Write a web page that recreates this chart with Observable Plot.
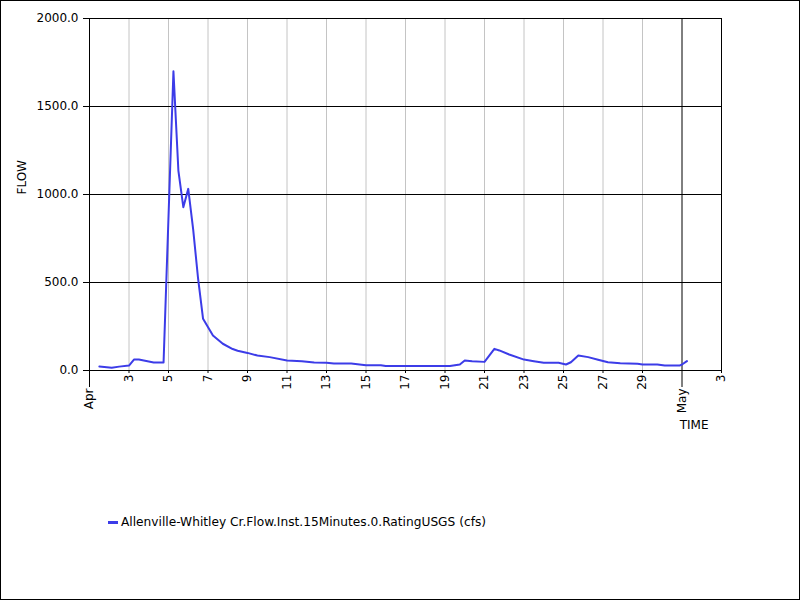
<!DOCTYPE html>
<html>
<head>
<meta charset="utf-8">
<script src="https://cdn.jsdelivr.net/npm/d3@7"></script>
<script src="https://cdn.jsdelivr.net/npm/@observablehq/plot@0.6"></script>
<style>
  html, body { margin: 0; padding: 0; background: white; }
  #page { position: relative; width: 800px; height: 600px; background: white; overflow: hidden; }
  #chart { position: absolute; left: 0; top: 0; width: 800px; }
  #chart svg { max-width: none !important; }
  #border { position: absolute; left: 0; top: 0; width: 800px; height: 600px; box-sizing: border-box; border: 1px solid black; pointer-events: none; }
  #legend { position: absolute; left: 108px; top: 515px; font-family: "DejaVu Sans", sans-serif; font-size: 12.2px; color: black; display: flex; align-items: center; white-space: nowrap; }
  #legend .sw { width: 10px; height: 3px; margin-right: 3px; }
</style>
</head>
<body>
<div id="page">
  <div id="chart"></div>
  <div id="legend"></div>
  <div id="border"></div>
</div>
<script>
// ---- data ----
const times = [
  "2019-04-01T12:00Z","2019-04-02T03:00Z","2019-04-02T12:00Z","2019-04-03T00:00Z","2019-04-03T06:00Z",
  "2019-04-03T12:00Z","2019-04-04T06:00Z","2019-04-04T18:00Z","2019-04-05T06:00Z","2019-04-05T12:00Z",
  "2019-04-05T18:00Z","2019-04-06T00:00Z","2019-04-06T06:00Z","2019-04-06T12:00Z","2019-04-06T18:00Z",
  "2019-04-07T06:00Z","2019-04-07T18:00Z","2019-04-08T06:00Z","2019-04-08T12:00Z","2019-04-09T00:00Z",
  "2019-04-09T12:00Z","2019-04-10T03:00Z","2019-04-11T00:00Z","2019-04-11T18:00Z","2019-04-12T09:00Z",
  "2019-04-13T00:00Z","2019-04-13T09:00Z","2019-04-14T06:00Z","2019-04-15T00:00Z","2019-04-15T18:00Z",
  "2019-04-16T00:00Z","2019-04-19T06:00Z","2019-04-19T18:00Z","2019-04-20T00:00Z","2019-04-20T09:00Z",
  "2019-04-21T00:00Z","2019-04-21T12:00Z","2019-04-21T18:00Z","2019-04-22T06:00Z","2019-04-23T00:00Z",
  "2019-04-23T12:00Z","2019-04-24T00:00Z","2019-04-24T18:00Z","2019-04-25T03:00Z","2019-04-25T09:00Z",
  "2019-04-25T18:00Z","2019-04-26T06:00Z","2019-04-26T18:00Z","2019-04-27T06:00Z","2019-04-27T21:00Z",
  "2019-04-28T18:00Z","2019-04-29T00:00Z","2019-04-29T18:00Z","2019-04-30T03:00Z","2019-04-30T21:00Z",
  "2019-05-01T00:00Z","2019-05-01T06:00Z"
];
const flows = [
  23, 15, 22, 28, 62,
  62, 46, 45, 1700, 1136,
  928, 1032, 800, 520, 294,
  199, 152, 122, 112, 100,
  85, 76, 57, 53, 45,
  44, 40, 40, 30, 30,
  25, 25, 34, 57, 53,
  49, 123, 114, 91, 62,
  53, 44, 44, 34, 47,
  85, 76, 61, 47, 41,
  38, 34, 34, 28, 28,
  34, 53
];
const seriesName = "Allenville-Whitley Cr.Flow.Inst.15Minutes.0.RatingUSGS (cfs)";
const xDomain = ["2019-04-01T00:00Z", "2019-05-03T00:00Z"];
const dayTicks = ["2019-04-03","2019-04-05","2019-04-07","2019-04-09","2019-04-11","2019-04-13","2019-04-15",
  "2019-04-17","2019-04-19","2019-04-21","2019-04-23","2019-04-25","2019-04-27","2019-04-29","2019-05-03"];
const gridDays = ["2019-04-03","2019-04-05","2019-04-07","2019-04-09","2019-04-11","2019-04-13","2019-04-15",
  "2019-04-17","2019-04-19","2019-04-21","2019-04-23","2019-04-25","2019-04-27","2019-04-29"];
const monthTicks = ["2019-04-01","2019-05-01"];
const yTicks = [0, 500, 1000, 1500, 2000];
const yGrid = [500, 1000, 1500];
const lineColor = "#3c3ce8";

// ---- build ----
const P = s => new Date(s.length === 10 ? s + "T00:00Z" : s);
const data = times.map((t, i) => ({t: P(t), flow: flows[i]}));
const fmtDay = d => String(d.getUTCDate());
const fmtMonth = d => ["Jan","Feb","Mar","Apr","May","Jun","Jul","Aug","Sep","Oct","Nov","Dec"][d.getUTCMonth()];

const chart = Plot.plot({
  width: 800, height: 450,
  marginLeft: 89, marginRight: 79, marginTop: 18, marginBottom: 80,
  style: {fontFamily: "DejaVu Sans, sans-serif", fontSize: "12px", background: "white", color: "black", overflow: "visible"},
  x: {type: "utc", domain: xDomain.map(P)},
  y: {domain: [0, 2000]},
  marks: [
    Plot.ruleX(gridDays.map(P), {stroke: "#c4c4c4", strokeWidth: 1}),
    Plot.ruleY(yGrid, {stroke: "black"}),
    Plot.ruleX([P("2019-05-01")], {stroke: "black"}),
    Plot.frame({stroke: "black"}),
    Plot.axisX(dayTicks.map(P), {tickSize: 3, tickPadding: 1, tickRotate: -90, tickFormat: fmtDay, label: null, stroke: "black"}),
    Plot.axisX(monthTicks.map(P), {tickSize: 17, tickPadding: 1, tickRotate: -90, tickFormat: fmtMonth, label: null, stroke: "black"}),
    Plot.axisY(yTicks, {tickSize: 6, tickPadding: 5, tickFormat: d => d.toFixed(1), label: null}),
    Plot.text(["FLOW"], {frameAnchor: "left", rotate: -90, dx: -67, fontSize: 12}),
    Plot.text(["TIME"], {frameAnchor: "bottom-right", dx: -13, dy: 58, textAnchor: "end", fontSize: 12}),
    Plot.lineY(data, {x: "t", y: "flow", stroke: lineColor, strokeWidth: 2})
  ]
});
document.getElementById("chart").appendChild(chart);

const lg = document.getElementById("legend");
const sw = document.createElement("span"); sw.className = "sw"; sw.style.background = lineColor;
const tx = document.createElement("span"); tx.textContent = seriesName;
lg.appendChild(sw); lg.appendChild(tx);
</script>
</body>
</html>
